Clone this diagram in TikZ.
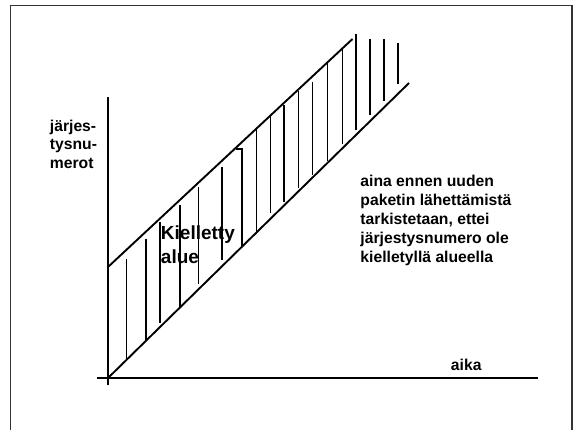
\documentclass[tikz,border=0pt]{standalone}
\usepackage{fontspec}
\setmainfont{Liberation Sans}
\usepackage{tikz}

\begin{document}
\begin{tikzpicture}[x=1pt, y=-1pt, line width=1.9pt,
    frameline/.style={line width=1.4pt, black!80},
    hatchline/.style={line width=1.9pt},
    lbl/.style={inner sep=0pt, anchor=base west, align=left, font=\bfseries\fontsize{15.7}{18.4}\selectfont}]
    \useasboundingbox (0,0) rectangle (580,430);
    % frame
    \draw[frameline] (10.5,432) -- (10.5,5.5) -- (572,5.5) -- (572,432);
    % axes
    \coordinate (origin) at (108,378);
    \coordinate (ytop) at (108,97);
    \coordinate (ybot) at (108,385);
    \coordinate (xleft) at (97,378);
    \coordinate (xright) at (538,378);
    \draw (ybot) -- (ytop);
    \draw (xleft) -- (xright);
    % window edges
    \coordinate (lowend) at (409,83);
    \coordinate (upstart) at (108,267);
    \coordinate (upend) at (352.5,39);
    \draw (origin) -- (lowend);
    \draw (upstart) -- (upend);
    % hatching
    \foreach \hx/\htop/\hbot in {126.5/259/360, 146/239/340, 160/222/323, 180/205/307,
        198.5/187/284, 222/167/260, 256.5/129/234, 270.5/116/213, 284/105/202,
        298.5/91/188, 312.5/82/175, 327.5/63/161, 342.5/49/144, 356/34/130,
        370/39/115, 384/39/101, 398/43/84}
        \draw[hatchline] (\hx,\htop) -- (\hx,\hbot);
    \draw[hatchline] (236,149) -- (242,149) -- (242,247);
    % texts (base = last line)
    \node[lbl] (seqlabel) at (49,168.3) {järjes-\\tysnu-\\merot};
    \node[lbl] (timelabel) at (450,370) {aika};
    \node[lbl, font=\bfseries\fontsize{19}{24}\selectfont] (forbidden) at (160,263) {Kielletty\\alue};
    \node[lbl, font=\bfseries\fontsize{15.7}{18.9}\selectfont] (checknote) at (359.5,262.3)
        {aina ennen uuden\\paketin lähettämistä\\tarkistetaan, ettei\\järjestysnumero ole\\kielletyllä alueella};
\end{tikzpicture}
\end{document}
